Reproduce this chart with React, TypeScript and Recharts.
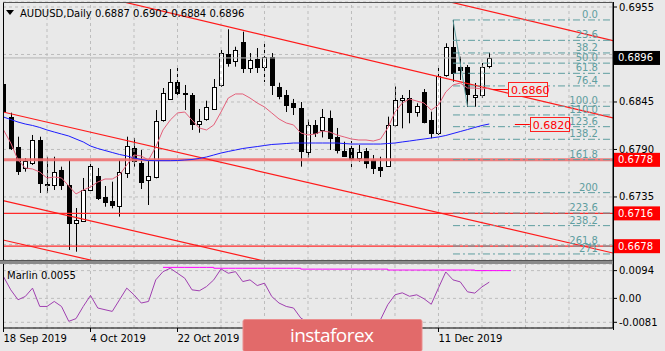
import React from 'react';
import { ComposedChart, Bar, Line, XAxis, YAxis, CartesianGrid, ReferenceLine, ReferenceDot } from 'recharts';

// ---------- DATA ----------
const dates = [
  '18 Sep 2019', '19 Sep 2019', '20 Sep 2019', '23 Sep 2019', '24 Sep 2019', '25 Sep 2019', '26 Sep 2019', '27 Sep 2019', '30 Sep 2019', '1 Oct 2019',
  '2 Oct 2019', '3 Oct 2019', '4 Oct 2019', '7 Oct 2019', '8 Oct 2019', '9 Oct 2019', '10 Oct 2019', '11 Oct 2019', '14 Oct 2019', '15 Oct 2019',
  '16 Oct 2019', '17 Oct 2019', '18 Oct 2019', '21 Oct 2019', '22 Oct 2019', '23 Oct 2019', '24 Oct 2019', '25 Oct 2019', '28 Oct 2019', '29 Oct 2019',
  '30 Oct 2019', '31 Oct 2019', '1 Nov 2019', '4 Nov 2019', '5 Nov 2019', '6 Nov 2019', '7 Nov 2019', '8 Nov 2019', '11 Nov 2019', '12 Nov 2019',
  '13 Nov 2019', '14 Nov 2019', '15 Nov 2019', '18 Nov 2019', '19 Nov 2019', '20 Nov 2019', '21 Nov 2019', '22 Nov 2019', '25 Nov 2019', '26 Nov 2019',
  '27 Nov 2019', '28 Nov 2019', '29 Nov 2019', '2 Dec 2019', '3 Dec 2019', '4 Dec 2019', '5 Dec 2019', '6 Dec 2019', '9 Dec 2019', '10 Dec 2019',
  '11 Dec 2019', '12 Dec 2019', '13 Dec 2019', '16 Dec 2019', '17 Dec 2019', '18 Dec 2019', '19 Dec 2019', '20 Dec 2019',
];

const opens = [
  0.68658, 0.68280, 0.67932, 0.67686, 0.67747, 0.68010, 0.67500, 0.67489, 0.67662, 0.67489,
  0.67052, 0.67075, 0.67431, 0.67593, 0.67350, 0.67307, 0.67251, 0.67628, 0.67914, 0.67747,
  0.67547, 0.67585, 0.68241, 0.68493, 0.68685, 0.68558, 0.68531, 0.68203, 0.68250, 0.68377,
  0.68647, 0.69006, 0.68925, 0.69148, 0.68847, 0.68948, 0.68859, 0.68971, 0.68629, 0.68531,
  0.68433, 0.68377, 0.67867, 0.68184, 0.68134, 0.68261, 0.68042, 0.67882, 0.67914, 0.67801,
  0.67888, 0.67778, 0.67701, 0.67709, 0.68184, 0.68473, 0.68493, 0.68338, 0.68569, 0.68241,
  0.68094, 0.68763, 0.69083, 0.68855, 0.68859, 0.68504, 0.68531, 0.68870,
];
const highs = [
  0.68705, 0.68326, 0.68048, 0.67801, 0.68068, 0.68048, 0.67816, 0.67816, 0.67701, 0.67778,
  0.67222, 0.67570, 0.67770, 0.67686, 0.67477, 0.67527, 0.67778, 0.68048, 0.68033, 0.67894,
  0.67778, 0.68357, 0.68612, 0.68832, 0.68847, 0.68647, 0.68554, 0.68369, 0.68465, 0.68716,
  0.69052, 0.69292, 0.69090, 0.69264, 0.69017, 0.69075, 0.69148, 0.69017, 0.68673, 0.68589,
  0.68485, 0.68450, 0.68247, 0.68241, 0.68369, 0.68351, 0.68149, 0.67990, 0.67998, 0.67952,
  0.67917, 0.67836, 0.67816, 0.68280, 0.68629, 0.68531, 0.68589, 0.68435, 0.68600, 0.68338,
  0.68878, 0.69130, 0.69399, 0.68974, 0.68878, 0.68670, 0.68902, 0.69020,
];
const lows = [
  0.68288, 0.67894, 0.67605, 0.67643, 0.67720, 0.67396, 0.67396, 0.67431, 0.67431, 0.66736,
  0.66716, 0.67064, 0.67393, 0.67315, 0.67237, 0.67219, 0.67122, 0.67570, 0.67701, 0.67442,
  0.67257, 0.67566, 0.68222, 0.68473, 0.68519, 0.68357, 0.68126, 0.68094, 0.68233, 0.68357,
  0.68627, 0.68859, 0.68859, 0.68786, 0.68786, 0.68786, 0.68681, 0.68531, 0.68481, 0.68334,
  0.68299, 0.67701, 0.67807, 0.68045, 0.68039, 0.67894, 0.67854, 0.67816, 0.67682, 0.67759,
  0.67682, 0.67616, 0.67581, 0.67697, 0.68164, 0.68145, 0.68203, 0.68280, 0.68203, 0.68030,
  0.68068, 0.68743, 0.68685, 0.68705, 0.68395, 0.68395, 0.68496, 0.68840,
];
const closes = [
  0.68346, 0.67925, 0.67654, 0.67767, 0.68010, 0.67512, 0.67483, 0.67643, 0.67489, 0.67049,
  0.67083, 0.67431, 0.67712, 0.67338, 0.67295, 0.67257, 0.67639, 0.67940, 0.67759, 0.67527,
  0.67593, 0.68233, 0.68558, 0.68685, 0.68558, 0.68543, 0.68195, 0.68233, 0.68392, 0.68627,
  0.69017, 0.68905, 0.69052, 0.68844, 0.68936, 0.68852, 0.68974, 0.68647, 0.68519, 0.68415,
  0.68386, 0.67874, 0.68184, 0.68094, 0.68280, 0.68030, 0.67886, 0.67825, 0.67786, 0.67874,
  0.67749, 0.67682, 0.67662, 0.68184, 0.68473, 0.68500, 0.68326, 0.68404, 0.68222, 0.68094,
  0.68751, 0.69090, 0.68782, 0.68826, 0.68551, 0.68531, 0.68859, 0.68960,
];

// moving averages
const maFast = [
  0.68126, 0.67975, 0.67778, 0.67686, 0.67674, 0.67639, 0.67570, 0.67581, 0.67570, 0.67477,
  0.67385, 0.67431, 0.67466, 0.67523, 0.67558, 0.67558, 0.67605, 0.67720, 0.67836, 0.67825,
  0.67778, 0.67929, 0.68126, 0.68241, 0.68323, 0.68334, 0.68241, 0.68149, 0.68126, 0.68184,
  0.68334, 0.68496, 0.68543, 0.68543, 0.68496, 0.68438, 0.68392, 0.68323, 0.68253, 0.68207,
  0.68184, 0.68091, 0.68068, 0.68079, 0.68114, 0.68102, 0.68068, 0.68045, 0.68021, 0.68010,
  0.68010, 0.67998, 0.68021, 0.68149, 0.68334, 0.68438, 0.68485, 0.68461, 0.68438, 0.68357,
  0.68415, 0.68566, 0.68647, 0.68670, 0.68612, 0.68612, 0.68600, 0.68612,
];
const maSlow = [
  0.68276, 0.68247, 0.68218, 0.68195, 0.68178, 0.68155, 0.68126, 0.68102, 0.68079, 0.68056,
  0.68021, 0.67987, 0.67940, 0.67911, 0.67888, 0.67865, 0.67842, 0.67825, 0.67801, 0.67784,
  0.67772, 0.67770, 0.67770, 0.67770, 0.67772, 0.67778, 0.67784, 0.67796, 0.67813, 0.67836,
  0.67859, 0.67877, 0.67894, 0.67911, 0.67923, 0.67934, 0.67946, 0.67958, 0.67963, 0.67969,
  0.67975, 0.67975, 0.67975, 0.67975, 0.67975, 0.67975, 0.67975, 0.67969, 0.67963, 0.67963,
  0.67963, 0.67963, 0.67963, 0.67969, 0.67975, 0.67987, 0.67998, 0.68010, 0.68021, 0.68033,
  0.68045, 0.68062, 0.68085, 0.68108, 0.68131, 0.68155, 0.68178, 0.68195,
];

// Marlin oscillator
const marlin = [
  0.00737, 0.00289, -0.00047, 0.00064, 0.00347, -0.00273, -0.00273, -0.00104, -0.00273, -0.00777,
  -0.00686, -0.00273, 0.00098, -0.00326, -0.00384, -0.00441, -0.00047, 0.00347, 0.00121, -0.00158,
  -0.00104, 0.00626, 0.00905, 0.01020, 0.00851, 0.00683, 0.00289, 0.00256, 0.00400, 0.00626,
  0.00996, 0.00851, 0.00905, 0.00569, 0.00626, 0.00434, 0.00515, 0.00064, -0.00158, -0.00273,
  -0.00326, -0.00663, -0.00821, -0.00888, -0.00787, -0.00855, -0.00922, -0.00821, -0.00888, -0.00922,
  -0.00855, -0.00787, -0.00720, -0.00215, 0.00121, 0.00188, 0.00071, 0.00121, -0.00013, -0.00199,
  0.00357, 0.00895, 0.00626, 0.00559, 0.00222, 0.00178, 0.00390, 0.00550,
];
const marlinMax = [
  null, null, null, null, null, null, null, null, null, null,
  null, null, null, null, null, null, null, null, null, null,
  null, null, 0.0105, 0.0105, 0.0105, 0.0105, 0.0105, 0.0105, 0.0105, 0.0102,
  0.0102, 0.0102, 0.0102, 0.0102, 0.0102, 0.0102, 0.0102, 0.0102, 0.0102, 0.0102,
  0.0102, 0.0099, 0.0099, 0.0099, 0.0099, 0.0099, 0.0099, 0.0099, 0.0099, 0.0099,
  0.0099, 0.0099, 0.0099, 0.0096, 0.0096, 0.0096, 0.0096, 0.0096, 0.0096, 0.0096,
  0.0096, 0.0096, 0.0096, 0.0096, 0.0096, 0.0094, 0.0094, 0.0094, 0.0094, 0.0094,
  0.0094,
];

// axes
const priceTicks = [0.6680, 0.6735, 0.6790, 0.6845, 0.6900, 0.6955];
const priceTicksShown = [0.6735, 0.6790, 0.6845, 0.6955];
const marlinTicks = [-0.0081, 0, 0.0094];
const dateTickIdx = [0, 12, 24, 36, 48, 60];
const dateLabelsShown = [0, 12, 24, 60];
const gridIdx = [6, 12, 18, 24, 30, 36, 42, 48, 54, 60, 66, 72, 78];

// chart objects (bar index, price)
const trendLines = [
  { x1: 15.10, y1: 0.69638, x2: 84.07, y2: 0.68265 },
  { x1: 60.46, y1: 0.69631, x2: 84.07, y2: 0.69161 },
  { x1: -0.07, y1: 0.68334, x2: 84.07, y2: 0.66701 },
  { x1: -0.07, y1: 0.67307, x2: 40.9, y2: 0.66512 },
  { x1: -0.07, y1: 0.66852, x2: 13.31, y2: 0.66594 },
];
const hLevels = [0.6778, 0.6716, 0.6678];
const priceMarks = [
  { x: 69.6, y: 0.6860 },
  { x: 72.6, y: 0.6820 },
];
const fibLevels = [0, 23.6, 38.2, 50, 61.8, 76.4, 100, 110, 123.6, 138.2, 161.8, 200, 223.6, 238.2, 261.8, 271];
const fibLabels = ['0.0', '23.6', '38.2', '50.0', '61.8', '76.4', '100.0', '110.0', '123.6', '138.2', '161.8', '200', '223.6', '238.2', '261.8', '271'];
const fibHigh = 0.6940;
const fibLow = 0.6840;
const fibStartIdx = 62;
const fibEndIdx = 64;

// ---------- CONFIG ----------
const X_DOMAIN: [number, number] = [-0.069, 84.069];
const Y_DOMAIN: [number, number] = [0.6662, 0.69608];
const M_DOMAIN: [number, number] = [-0.01003, 0.01164];
const BG = '#e9e9e9';
const FONT = 'DejaVu Sans';
const GRID = '#bdbdbd';
const FIB = '#5f9ea0';

const mainRows = dates.map((d, i) => ({
  i,
  date: d,
  open: opens[i],
  high: highs[i],
  low: lows[i],
  close: closes[i],
  range: [lows[i], highs[i]],
  maFast: maFast[i],
  maSlow: maSlow[i],
}));

const lowRows = marlinMax.map((m, i) => ({
  i,
  marlin: i < marlin.length ? marlin[i] : null,
  marlinMax: m,
}));

const last = mainRows[mainRows.length - 1];

const Candle = (props: any) => {
  const { x, y, width, height, payload } = props;
  if (!payload || payload.high == null) return null;
  const { open, close, high, low } = payload;
  const top = Math.min(y, y + height);
  const h = Math.abs(height);
  const py = (p: number) => top + ((high - p) / (high - low)) * h;
  const cx = Math.round(x + width / 2) + 0.5;
  const yo = py(open);
  const yc = py(close);
  const bull = close >= open;
  const bt = Math.round(Math.min(yo, yc)) + 0.5;
  const bh = Math.max(1, Math.round(Math.abs(yc - yo)));
  return (
    <g>
      <line x1={cx} x2={cx} y1={top} y2={top + h} stroke="#000" strokeWidth={1} />
      <rect x={cx - 2} y={bt} width={4} height={bh} fill={bull ? '#fff' : '#000'} stroke="#000" strokeWidth={1} />
    </g>
  );
};

const PriceTick = (props: any) => {
  const { x, y, payload } = props;
  const v = payload.value;
  if (!priceTicksShown.some((t) => Math.abs(t - v) < 1e-7)) return null;
  return (
    <text x={x} y={y} dy={3.5} textAnchor="start" fontSize={10} fontFamily={FONT} fill="#000">
      {v.toFixed(4)}
    </text>
  );
};

const MarlinTick = (props: any) => {
  const { x, y, payload } = props;
  const v = payload.value;
  return (
    <text x={x} y={y} dy={3.5} textAnchor="start" fontSize={10} fontFamily={FONT} fill="#000">
      {v === 0 ? '0.00' : v.toFixed(4)}
    </text>
  );
};

const DateTick = (props: any) => {
  const { x, y, payload } = props;
  const idx = payload.value;
  if (!dateLabelsShown.includes(idx)) return null;
  const label = dates[idx];
  if (!label) return null;
  return (
    <text x={x} y={y} dy={8} textAnchor="start" fontSize={10} fontFamily={FONT} fill="#000">
      {label}
    </text>
  );
};

const rightBox = (text: string, bg: string) => (props: any) => {
  const { cx, cy } = props;
  return (
    <g>
      <rect x={cx + 1} y={cy - 7} width={46} height={14} fill={bg} />
      <text x={cx + 5} y={cy + 3.5} fontSize={10} fontFamily={FONT} fill="#fff">
        {text}
      </text>
    </g>
  );
};

const markBox = (text: string) => (props: any) => {
  const { cx, cy } = props;
  const yy = Math.round(cy) + 0.5;
  return (
    <g>
      <line x1={cx - 15} x2={cx} y1={yy} y2={yy} stroke="#ff0000" strokeWidth={1} />
      <rect x={Math.round(cx) + 0.5} y={yy - 7} width={39} height={14} fill={BG} stroke="#ff2020" strokeWidth={1} />
      <text x={cx + 3} y={yy + 4} fontSize={11} fontFamily={FONT} fill="#ff0000">
        {text}
      </text>
    </g>
  );
};

const fibText = (text: string) => (props: any) => {
  const { cx, cy } = props;
  return (
    <text x={cx} y={cy - 2} textAnchor="end" fontSize={10} fontFamily={FONT} fill={FIB}>
      {text}
    </text>
  );
};

export default function App() {
  return (
    <div style={{ position: 'absolute', left: 0, top: 0, width: 665, height: 351, background: BG, overflow: 'hidden', fontFamily: FONT }}>
      <div style={{ position: 'absolute', left: 0, top: 0 }}>
        <ComposedChart width={665} height={262} data={mainRows} margin={{ top: 2, right: 0, bottom: 2, left: 3 }}>
          <CartesianGrid vertical={false} stroke={GRID} strokeDasharray="3 3" />
          {gridIdx.map((g) => (
            <ReferenceLine key={'vg' + g} x={g} stroke={GRID} strokeDasharray="3 3" />
          ))}
          <XAxis type="number" dataKey="i" domain={X_DOMAIN} allowDataOverflow hide />
          <YAxis
            orientation="right"
            width={52}
            type="number"
            domain={Y_DOMAIN}
            allowDataOverflow
            ticks={priceTicks}
            interval={0}
            tick={<PriceTick />}
            tickSize={4}
            tickMargin={2}
            axisLine={{ stroke: '#000' }}
            tickLine={{ stroke: '#000' }}
          />
          <ReferenceLine y={last.close} stroke="#b5b5b5" strokeWidth={1} />
          <ReferenceLine y={hLevels[0]} stroke="#f07070" strokeOpacity={0.9} strokeWidth={3} />
          <ReferenceLine y={hLevels[1]} stroke="#ff2a2a" strokeWidth={1.2} />
          <ReferenceLine y={hLevels[2]} stroke="#ff2a2a" strokeWidth={1.2} />
          {trendLines.map((t, k) => (
            <ReferenceLine
              key={'tl' + k}
              segment={[{ x: t.x1, y: t.y1 }, { x: t.x2, y: t.y2 }]}
              stroke="#ff1a1a"
              strokeWidth={1.2}
              ifOverflow="hidden"
            />
          ))}
          {fibLevels.map((lv, k) => {
            const p = fibHigh - (lv / 100) * (fibHigh - fibLow);
            return (
              <ReferenceLine
                key={'fib' + k}
                segment={[{ x: fibStartIdx, y: p }, { x: X_DOMAIN[1], y: p }]}
                stroke={FIB}
                strokeWidth={1}
                strokeDasharray="7 3 2 3"
                ifOverflow="hidden"
              />
            );
          })}
          <ReferenceLine
            segment={[{ x: fibStartIdx, y: fibHigh }, { x: fibEndIdx, y: fibLow }]}
            stroke={FIB}
            strokeWidth={1}
          />
          <Line dataKey="maSlow" stroke="#1c1cff" strokeWidth={1} dot={false} isAnimationActive={false} />
          <Line dataKey="maFast" stroke="#e4607a" strokeWidth={1} dot={false} isAnimationActive={false} />
          <Bar dataKey="range" barSize={5} shape={<Candle />} isAnimationActive={false} />
          {fibLevels.map((lv, k) => {
            const p = fibHigh - (lv / 100) * (fibHigh - fibLow);
            return <ReferenceDot key={'fl' + k} x={82} y={p} r={0} shape={fibText(fibLabels[k])} />;
          })}
          {priceMarks.map((m, k) => (
            <ReferenceDot key={'pm' + k} x={m.x} y={m.y} r={0} shape={markBox(m.y.toFixed(4))} />
          ))}
          <ReferenceDot x={X_DOMAIN[1]} y={last.close} r={0} shape={rightBox(last.close.toFixed(4), '#000')} />
          {hLevels.map((h, k) => (
            <ReferenceDot key={'hb' + k} x={X_DOMAIN[1]} y={h} r={0} shape={rightBox(h.toFixed(4), '#ff0000')} />
          ))}
        </ComposedChart>
      </div>

      <div style={{ position: 'absolute', left: 0, top: 262 }}>
        <ComposedChart width={665} height={89} data={lowRows} margin={{ top: 2, right: 0, bottom: 0, left: 3 }}>
          <CartesianGrid vertical={false} stroke={GRID} strokeDasharray="3 3" />
          {gridIdx.map((g) => (
            <ReferenceLine key={'lg' + g} x={g} stroke={GRID} strokeDasharray="3 3" />
          ))}
          <XAxis
            type="number"
            dataKey="i"
            domain={X_DOMAIN}
            allowDataOverflow
            ticks={dateTickIdx}
            interval={0}
            tick={<DateTick />}
            height={23}
            tickSize={4}
            tickMargin={2}
            axisLine={{ stroke: '#000' }}
            tickLine={{ stroke: '#000' }}
          />
          <YAxis
            orientation="right"
            width={52}
            type="number"
            domain={M_DOMAIN}
            allowDataOverflow
            ticks={marlinTicks}
            interval={0}
            tick={<MarlinTick />}
            tickSize={4}
            tickMargin={2}
            axisLine={{ stroke: '#000' }}
            tickLine={{ stroke: '#000' }}
          />
          <Line dataKey="marlinMax" type="stepAfter" stroke="#ff00ff" strokeWidth={1} dot={false} isAnimationActive={false} />
          <Line dataKey="marlin" stroke="#a040b0" strokeWidth={1} dot={false} isAnimationActive={false} />
        </ComposedChart>
      </div>

      <svg style={{ position: 'absolute', left: 0, top: 0, pointerEvents: 'none' }} width={665} height={351}>
        <line x1={3.5} x2={3.5} y1={2} y2={328} stroke="#000" strokeWidth={1} />
        <line x1={3} x2={613} y1={2.5} y2={2.5} stroke="#555" strokeWidth={1} />
        <rect x={0} y={260} width={613.5} height={4} fill="#8a8a8a" />
        <line x1={0} x2={613.5} y1={260.5} y2={260.5} stroke="#555" />
        <line x1={613.5} x2={613.5} y1={2} y2={330} stroke="#000" />
        <polygon points="6,10 14,10 10,15" fill="#000" />
        <text x={20} y={16.5} fontSize={10} fontFamily={FONT} fill="#000">
          {`AUDUSD,Daily ${last.open.toFixed(4)} ${last.high.toFixed(4)} ${last.low.toFixed(4)} ${last.close.toFixed(4)}`}
        </text>
        <text x={7} y={278.5} fontSize={10} fontFamily={FONT} fill="#000">
          {`Marlin ${marlin[marlin.length - 1].toFixed(4)}`}
        </text>
        <rect x={243} y={319.5} width={179} height={32} rx={2} fill="#e26a6a" stroke="#eb8f8f" />
        <text x={332} y={342} textAnchor="middle" fontSize={19} fontFamily="Open Sans" fill="#fff" textLength={84}>
          instaforex
        </text>
      </svg>
    </div>
  );
}
